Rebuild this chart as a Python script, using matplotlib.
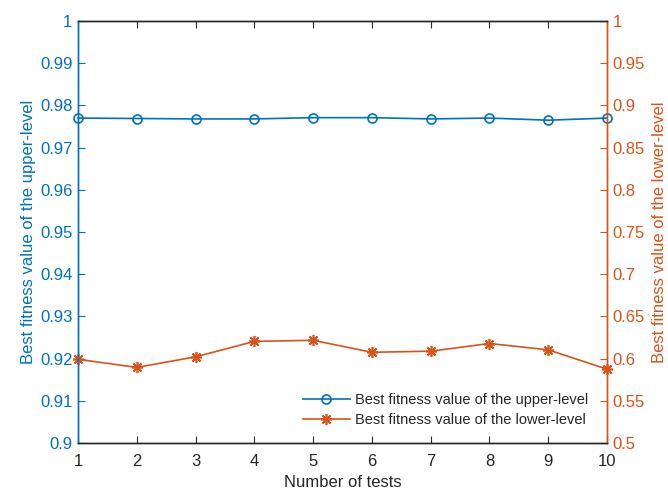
import matplotlib.pyplot as plt
from matplotlib.ticker import FuncFormatter

plt.rcParams['font.family'] = ['Liberation Sans', 'DejaVu Sans']

tests = [1, 2, 3, 4, 5, 6, 7, 8, 9, 10]
upper_best = [0.9770, 0.9769, 0.9768, 0.9768, 0.9771, 0.9771, 0.9768, 0.9770, 0.9765, 0.9770]
lower_best = [0.5992, 0.5896, 0.6021, 0.6204, 0.6217, 0.6075, 0.6088, 0.6179, 0.6104, 0.5875]

left_ticks = [0.9, 0.91, 0.92, 0.93, 0.94, 0.95, 0.96, 0.97, 0.98, 0.99, 1.0]
right_ticks = [0.5, 0.55, 0.6, 0.65, 0.7, 0.75, 0.8, 0.85, 0.9, 0.95, 1.0]

blue = '#0072BD'
orange = '#D95319'
dark = '#262626'

fig = plt.figure(figsize=(6.68, 4.9), dpi=100)
ax = fig.add_axes([0.1168, 0.0959, 0.7919, 0.8612])
ax2 = ax.twinx()

l1, = ax.plot(tests, upper_best, color=blue, lw=1.2, marker='o', ms=6.5,
              mfc='none', mew=1.2, label='Best fitness value of the upper-level', clip_on=False)
# asterisk marker: 8 arms like + and x overlaid
l2, = ax2.plot(tests, lower_best, color=orange, lw=1.2, marker=(8, 2, 0), ms=8,
               mew=1.2, label='Best fitness value of the lower-level', clip_on=False)

fmt = FuncFormatter(lambda v, p: f'{v:g}')
ax.set_xlim(1, 10)
ax.set_ylim(0.9, 1.0)
ax.set_xticks(tests)
ax.set_yticks(left_ticks)
ax.yaxis.set_major_formatter(fmt)
ax2.set_ylim(0.5, 1.0)
ax2.set_yticks(right_ticks)
ax2.yaxis.set_major_formatter(fmt)

for a in (ax, ax2):
    a.spines['top'].set_color(dark)
    a.spines['bottom'].set_color(dark)
    a.spines['left'].set_color(blue)
    a.spines['right'].set_color(orange)
    for s in a.spines.values():
        s.set_linewidth(1.0)

ax.tick_params(axis='x', direction='in', top=True, length=5, colors=dark,
               labelsize=12, pad=8)
ax.tick_params(axis='y', direction='in', length=5, colors=blue, labelsize=12, pad=4)
ax2.tick_params(axis='y', direction='in', length=5, colors=orange, labelsize=12, pad=4)

ax.set_xlabel('Number of tests', fontsize=12, color=dark, labelpad=4)
ax.set_ylabel('Best fitness value of the upper-level', fontsize=12, color=blue, labelpad=3)
ax2.set_ylabel('Best fitness value of the lower-level', fontsize=12, color=orange,
               rotation=90)
ax2.yaxis.set_label_coords(1.085, 0.5)

leg = ax2.legend(handles=[l1, l2], loc='lower right', fontsize=10.5, frameon=False,
                 handlelength=3.2, borderaxespad=0, handletextpad=0.35,
                 labelspacing=0.38, bbox_to_anchor=(0.975, 0.025))
for t in leg.get_texts():
    t.set_color(dark)

fig.savefig('out.png', dpi=100)
